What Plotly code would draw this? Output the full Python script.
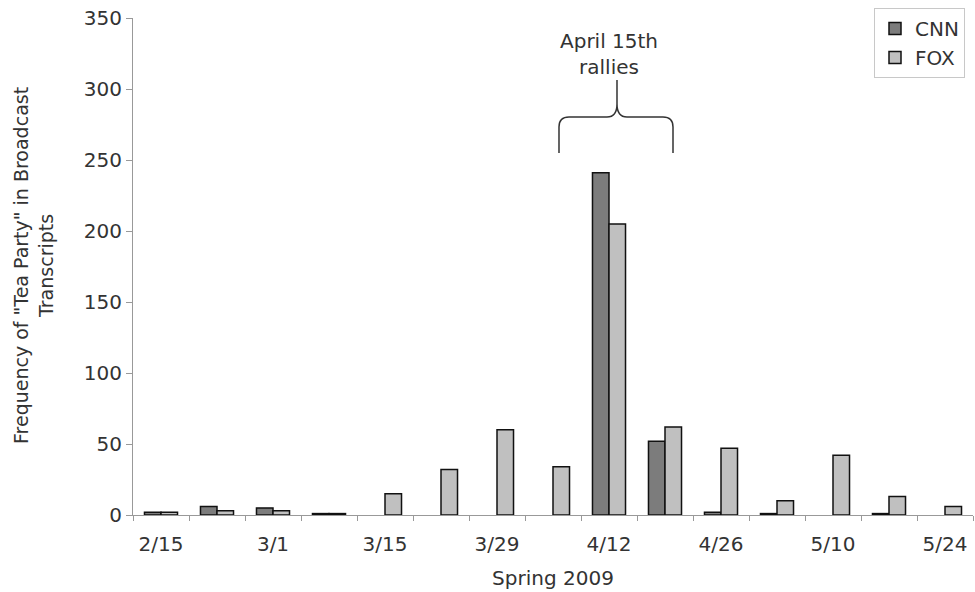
import plotly.graph_objects as go

weeks = ["2/15", "2/22", "3/1", "3/8", "3/15", "3/22", "3/29", "4/5",
         "4/12", "4/19", "4/26", "5/3", "5/10", "5/17", "5/24"]
tick_labels = ["2/15", "", "3/1", "", "3/15", "", "3/29", "",
               "4/12", "", "4/26", "", "5/10", "", "5/24"]
cnn = [2, 6, 5, 1, None, None, None, None, 241, 52, 2, 1, None, 1, None]
fox = [2, 3, 3, 1, 15, 32, 60, 34, 205, 62, 47, 10, 42, 13, 6]
y_ticks = [0, 50, 100, 150, 200, 250, 300, 350]

W, H = 975, 592
ML, MR, MT, MB = 133, 2, 18, 77
PW, PH = W - ML - MR, H - MT - MB

def px(x):
    return (x - ML) / PW

def py(y):
    return (H - MB - y) / PH

FONT = "DejaVu Sans"
TXT = "#333333"

fig = go.Figure()
fig.add_trace(go.Bar(name="CNN", x=weeks, y=cnn,
                     marker=dict(color="#7c7c7c", line=dict(color="#111111", width=1.5))))
fig.add_trace(go.Bar(name="FOX", x=weeks, y=fox,
                     marker=dict(color="#c0c0c0", line=dict(color="#111111", width=1.5))))

def P(x, y):
    return f"{px(x):.5f},{py(y):.5f}"

path = ("M " + P(559, 153) + " L " + P(559, 127) + " Q " + P(559, 117) + " " + P(569, 117) +
        " L " + P(607, 117) + " Q " + P(617, 117) + " " + P(617, 104) + " L " + P(617, 80) +
        " M " + P(617, 104) + " Q " + P(617, 117) + " " + P(627, 117) +
        " L " + P(663, 117) + " Q " + P(673, 117) + " " + P(673, 127) + " L " + P(673, 153))
fig.add_shape(type="path", xref="paper", yref="paper", path=path,
              line=dict(color="#333333", width=1.5))

fig.add_annotation(xref="paper", yref="paper", x=px(609), y=py(54),
                   xanchor="center", yanchor="middle",
                   text="April 15th<br>rallies", showarrow=False,
                   font=dict(family=FONT, size=20, color=TXT), align="center")

fig.add_annotation(xref="paper", yref="paper", x=px(33), y=py(266),
                   xanchor="center", yanchor="middle",
                   text='Frequency of "Tea Party" in Broadcast<br>Transcripts',
                   textangle=-90, showarrow=False,
                   font=dict(family=FONT, size=19, color=TXT), align="center")

fig.update_layout(
    width=W, height=H,
    margin=dict(l=ML, r=MR, t=MT, b=MB),
    paper_bgcolor="white", plot_bgcolor="white",
    barmode="group", bargap=0.41, bargroupgap=0,
    font=dict(family=FONT, size=20, color=TXT),
    showlegend=True,
    legend=dict(x=px(874), y=py(8), xanchor="left", yanchor="top",
                bordercolor="#c8c8c8", borderwidth=1, bgcolor="white",
                font=dict(family=FONT, size=20, color=TXT),
                itemwidth=30, tracegroupgap=0),
    xaxis=dict(type="category", tickmode="array", tickvals=weeks, ticktext=tick_labels,
               tickson="boundaries", ticks="outside", ticklen=5, tickcolor="#999999",
               showline=True, linecolor="#999999", linewidth=1, showgrid=False,
               ticklabelstandoff=11,
               tickfont=dict(family=FONT, size=20, color=TXT),
               title=dict(text="Spring 2009", standoff=15,
                          font=dict(family=FONT, size=20, color=TXT))),
    yaxis=dict(range=[0, 350], tickvals=y_ticks, ticks="outside", ticklen=6,
               tickcolor="#999999", showline=True, linecolor="#999999", linewidth=1,
               showgrid=False, zeroline=False,
               tickfont=dict(family=FONT, size=20, color=TXT)),
)

fig.write_html("out.html", config={"displayModeBar": False},
               post_script="document.body.style.margin='0';")
